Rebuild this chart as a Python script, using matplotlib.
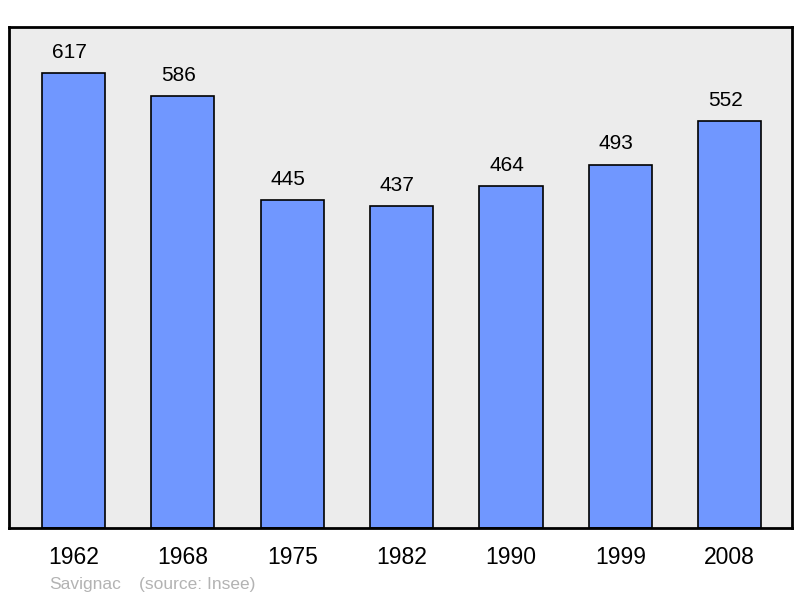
import matplotlib
matplotlib.use("Agg")
import matplotlib.pyplot as plt

years = ["1962", "1968", "1975", "1982", "1990", "1999", "2008"]
population = [617, 586, 445, 437, 464, 493, 552]

plt.rcParams['font.family'] = ['Liberation Sans', 'DejaVu Sans']

fig = plt.figure(figsize=(8, 5.98), dpi=100)
ax = fig.add_axes([9/800, (598-528)/598, (792-9)/800, (528-27)/598])
ax.set_facecolor('#ececec')
x = list(range(len(years)))
ax.bar(x, population, width=0.577, color='#7097ff', edgecolor='black', linewidth=1.2, zorder=2)
for xi, v in zip(x, population):
    ax.annotate(str(v), (xi, v), xytext=(-3, 8), textcoords='offset points',
                ha='center', va='bottom', fontsize=15, color='black')
ax.set_xlim(-0.59, 6.57)
ax.set_ylim(0, 679.5)
ax.set_xticks(x)
ax.set_xticklabels(years, fontsize=16.5)
ax.tick_params(axis='x', length=0, pad=13)
ax.set_yticks([])
for s in ax.spines.values():
    s.set_linewidth(2)
    s.set_color('black')

fig.text(49/800, 1 - 584/598, "Savignac", fontsize=12.5, color='#b3b3b3', va='center', ha='left')
fig.text(139/800, 1 - 584/598, "(source: Insee)", fontsize=12.5, color='#b3b3b3', va='center', ha='left')

fig.savefig("out.png", dpi=100)
